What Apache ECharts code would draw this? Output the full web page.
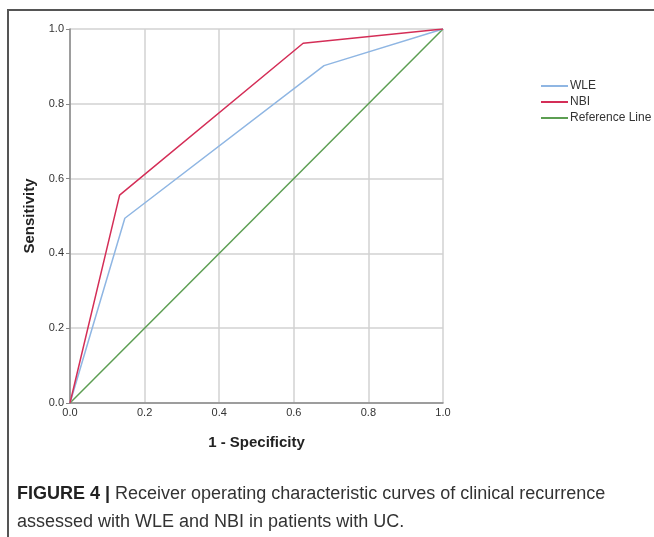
<!DOCTYPE html>
<html>
<head>
<meta charset="utf-8">
<script src="https://cdn.jsdelivr.net/npm/echarts@6/dist/echarts.min.js"></script>
<style>
  html, body { margin: 0; padding: 0; background: #fff; }
  #wrap { position: relative; width: 654px; height: 537px; overflow: hidden; }
  #frame { position: absolute; left: 7px; top: 9px; width: 660px; height: 560px;
           border-top: 2px solid #555; border-left: 2px solid #555; }
  #chart { position: absolute; left: 0; top: 0; width: 654px; height: 537px; }
  #caption { position: absolute; left: 17px; top: 479px; width: 630px;
             font-family: "Liberation Sans Narrow", "Liberation Sans", Arial, sans-serif;
             font-size: 18px; line-height: 28px; color: #333; }
  #caption b { color: #222; }
</style>
</head>
<body>
<div id="wrap">
  <div id="frame"></div>
  <div id="chart"></div>
  <div id="caption"><b>FIGURE 4 |</b> Receiver operating characteristic curves of clinical recurrence assessed with WLE and NBI in patients with UC.</div>
</div>
<script>
// ROC points: [1 - specificity, sensitivity]
const seriesNames = ['WLE', 'NBI', 'Reference Line'];
const wle = [[0, 0], [0.147, 0.494], [0.681, 0.902], [1, 1]];
const nbi = [[0, 0], [0.133, 0.556], [0.625, 0.962], [1, 1]];
const reference = [[0, 0], [1, 1]];
const ticks = [0, 0.2, 0.4, 0.6, 0.8, 1.0];

const colors = ['#8fb6e3', '#d42e57', '#5c9e52'];

const chart = echarts.init(document.getElementById('chart'));

function axisLabelFmt(v) {
  return v.toFixed(1);
}

chart.setOption({
  animation: false,
  grid: { left: 70, top: 29, right: 211, bottom: 134 },
  legend: {
    orient: 'vertical',
    left: 536,
    top: 75,
    itemWidth: 27,
    itemHeight: 2,
    itemGap: 4,
    icon: 'rect',
    data: seriesNames,
    textStyle: { fontFamily: 'Liberation Sans', fontSize: 12, color: '#333', padding: [0, 0, 0, -3] }
  },
  xAxis: {
    type: 'value',
    min: ticks[0],
    max: ticks[ticks.length - 1],
    interval: 0.2,
    name: '1 - Specificity',
    nameLocation: 'middle',
    nameGap: 32,
    nameTextStyle: { fontFamily: 'Liberation Sans', fontSize: 15, fontWeight: 'bold', color: '#222' },
    axisLine: { show: true, lineStyle: { color: '#888', width: 1.5 } },
    axisTick: { show: false },
    axisLabel: { formatter: axisLabelFmt, fontFamily: 'Liberation Sans', fontSize: 11, color: '#333', margin: 4 },
    splitLine: { show: true, lineStyle: { color: '#d2d2d2', width: 1.5 } }
  },
  yAxis: {
    type: 'value',
    min: ticks[0],
    max: ticks[ticks.length - 1],
    interval: 0.2,
    name: 'Sensitivity',
    nameLocation: 'middle',
    nameGap: 33,
    nameTextStyle: { fontFamily: 'Liberation Sans', fontSize: 15, fontWeight: 'bold', color: '#222' },
    axisLine: { show: true, lineStyle: { color: '#888', width: 1.5 } },
    axisTick: { show: true, length: 4, lineStyle: { color: '#888' } },
    axisLabel: { formatter: axisLabelFmt, fontFamily: 'Liberation Sans', fontSize: 11, color: '#333', margin: 6 },
    splitLine: { show: true, lineStyle: { color: '#d2d2d2', width: 1.5 } }
  },
  series: [
    { name: seriesNames[0], type: 'line', data: wle, showSymbol: false, color: colors[0], lineStyle: { width: 1.5 }, z: 3 },
    { name: seriesNames[1], type: 'line', data: nbi, showSymbol: false, color: colors[1], lineStyle: { width: 1.5 }, z: 4 },
    { name: seriesNames[2], type: 'line', data: reference, showSymbol: false, color: colors[2], lineStyle: { width: 1.5 }, z: 2 }
  ]
});
</script>
</body>
</html>
